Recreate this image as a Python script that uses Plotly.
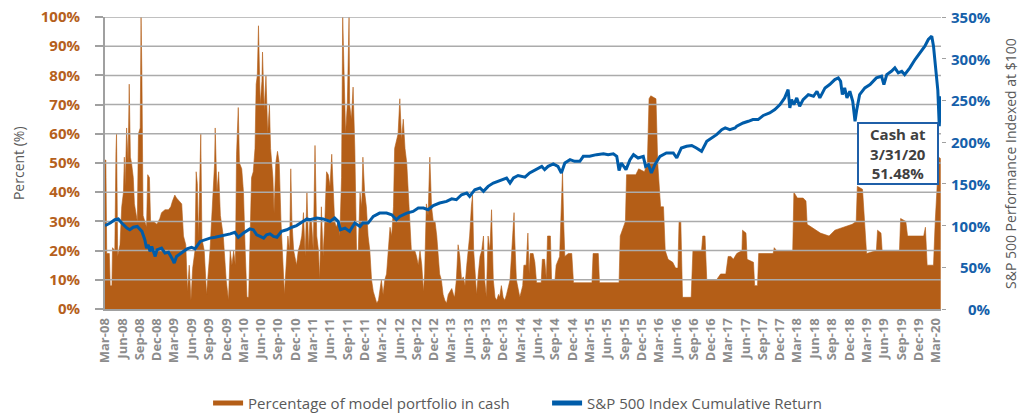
import numpy as np
import pandas as pd
import plotly.graph_objects as go

# ---------------- data (time in months since 1-Mar-2008) ----------------
CASH_MONTHS = [
    0.0, 0.15, 0.3, 0.75, 0.9, 1.2, 1.3, 1.7, 1.9, 2.0, 2.2, 2.6, 2.9, 3.2, 3.35, 3.5, 3.75, 4.0, 4.2, 4.4,
    4.6, 4.9, 5.1, 5.4, 5.6, 5.8, 6.1, 6.25, 6.4, 6.6, 6.9, 7.2, 7.4, 7.7, 7.9, 8.4, 9.0, 9.5, 9.8, 10.4,
    11.0, 11.4, 11.7, 12.1, 12.4, 12.9, 13.3, 13.6, 14.0, 14.3, 14.6, 14.9, 15.2, 15.6, 15.8, 16.0, 16.2, 16.6, 16.8, 17.2,
    17.6, 18.2, 18.7, 19.0, 19.1, 19.4, 19.7, 20.0, 20.5, 21.0, 21.4, 21.7, 22.0, 22.3, 22.6, 22.8, 23.1, 23.3, 23.7, 24.0,
    24.3, 24.6, 24.9, 25.1, 25.4, 25.7, 26.0, 26.2, 26.4, 26.6, 26.9, 27.2, 27.3, 27.6, 27.9, 28.2, 28.5, 28.7, 29.1, 29.3,
    29.6, 29.9, 30.2, 30.5, 30.8, 31.1, 31.4, 31.7, 32.0, 32.2, 32.4, 32.7, 32.9, 33.2, 33.5, 33.8, 34.1, 34.4, 34.7, 35.0,
    35.3, 35.5, 35.8, 36.1, 36.4, 36.7, 37.0, 37.2, 37.5, 37.8, 38.1, 38.4, 38.7, 39.0, 39.3, 39.5, 39.8, 40.1, 40.4, 40.7,
    41.0, 41.2, 41.5, 41.7, 42.0, 42.3, 42.4, 42.7, 43.0, 43.3, 43.6, 43.9, 44.2, 44.5, 44.7, 45.0, 45.3, 45.6, 45.9, 46.2,
    46.5, 46.8, 47.1, 47.4, 47.6, 47.9, 48.2, 48.5, 48.8, 49.1, 49.4, 49.7, 50.0, 50.2, 50.5, 50.8, 51.1, 51.4, 51.7, 52.0,
    52.3, 52.6, 52.8, 53.1, 53.4, 53.7, 54.0, 54.3, 54.6, 54.9, 55.2, 55.4, 55.7, 56.0, 56.3, 56.6, 56.9, 57.2, 57.5, 57.8,
    58.0, 58.3, 58.6, 58.9, 59.2, 59.5, 59.8, 60.1, 60.4, 60.6, 60.9, 61.2, 61.5, 61.8, 62.1, 62.4, 62.7, 63.0, 63.2, 63.5,
    63.7, 63.9, 64.2, 64.4, 64.7, 65.0, 65.3, 65.6, 65.8, 66.1, 66.4, 66.7, 67.0, 67.3, 67.6, 67.9, 68.2, 68.4, 68.7, 69.0,
    69.3, 69.6, 70.2, 70.5, 70.9, 71.0, 71.3, 71.9, 72.4, 72.6, 73.0, 73.3, 73.5, 73.7, 74.2, 74.5, 74.8, 75.6, 75.8, 76.2,
    76.5, 76.7, 77.2, 77.4, 78.0, 78.2, 78.8, 79.0, 79.3, 79.5, 79.7, 80.3, 80.9, 81.2, 83.0, 84.4, 84.6, 85.5, 85.7, 89.1,
    89.3, 89.8, 90.2, 90.4, 92.0, 92.5, 93.5, 94.0, 94.3, 94.6, 95.5, 95.8, 96.3, 96.8, 97.1, 97.6, 98.4, 98.9, 99.3, 99.5,
    99.8, 100.1, 101.6, 101.9, 103.4, 103.6, 104.0, 104.3, 106.0, 106.7, 107.6, 108.0, 108.5, 108.9, 109.5, 110.4, 110.5, 111.1, 111.3, 112.4,
    112.6, 113.1, 113.3, 115.8, 116.0, 116.4, 119.2, 119.4, 120.0, 121.0, 121.5, 121.7, 122.5, 124.0, 125.5, 126.5, 128.0, 129.5, 130.2, 130.4,
    131.3, 131.6, 132.0, 133.7, 133.9, 134.5, 134.7, 137.7, 137.9, 138.8, 139.1, 141.9, 142.2, 142.5, 143.6, 143.9, 144.2, 144.5, 144.85,
]
CASH_PCT = [
    51, 51, 19, 19, 8, 8, 21, 20, 54, 60, 18, 22, 35, 40, 52, 42, 62, 50, 77, 52,
    50, 45, 36, 33, 30, 60, 62, 100, 80, 32, 30, 28, 46, 45, 30, 30, 29, 31, 33, 34,
    34, 35, 37, 39, 38, 37, 36, 25, 22, 6, 15, 3, 14, 20, 47, 43, 24, 60, 24, 20,
    5, 20, 40, 50, 62, 40, 47, 32, 25, 10, 3, 20, 15, 20, 15, 53, 69, 50, 48, 40,
    20, 4, 4, 20, 45, 47, 55, 77, 80, 97, 70, 78, 88, 68, 80, 60, 70, 55, 45, 33,
    50, 54, 50, 30, 15, 5, 15, 25, 20, 48, 30, 20, 18, 15, 20, 22, 25, 33, 18, 40,
    20, 30, 30, 20, 56, 25, 20, 10, 35, 18, 30, 47, 46, 42, 53, 42, 30, 28, 30, 25,
    45, 100, 75, 60, 70, 100, 70, 65, 76, 55, 20, 20, 40, 35, 52, 40, 35, 25, 20, 10,
    6, 4, 2, 3, 6, 10, 5, 10, 12, 22, 28, 25, 35, 55, 58, 60, 72, 58, 65, 55,
    50, 40, 30, 20, 20, 20, 18, 15, 20, 15, 6, 12, 36, 32, 52, 35, 30, 30, 25, 15,
    12, 10, 5, 3, 2, 5, 6, 7, 5, 4, 10, 22, 18, 10, 11, 8, 15, 20, 25, 35,
    39, 20, 10, 5, 12, 18, 20, 25, 10, 4, 25, 20, 34, 10, 4, 3, 5, 4, 8, 4,
    3, 5, 10, 20, 33, 25, 10, 4, 8, 15, 15, 26, 12, 19, 19, 16, 9, 9, 17, 17,
    10, 25, 25, 10, 10, 15, 18, 30, 47, 30, 18, 19, 19, 9, 9, 9, 19, 19, 9, 9,
    25, 28, 30, 46, 46, 48, 47, 50, 72, 73, 72, 50, 35, 35, 20, 17, 16, 14, 14, 30,
    30, 4, 4, 20, 20, 25, 25, 10, 10, 12, 12, 18, 18, 17, 19, 20, 27, 26, 17, 16,
    8, 8, 19, 19, 21, 20, 20, 40, 38, 38, 37, 29, 28, 26, 25, 27, 28, 29, 30, 42,
    41, 30, 19, 20, 27, 26, 20, 20, 31, 30, 25, 25, 28, 15, 15, 30, 40, 52, 51.48,
]

SP_MONTHS = [
    0, 0.9, 1.7, 2.3, 2.9, 3.8, 4.3, 4.9, 5.6, 6.4, 6.9, 7.2, 7.5, 7.8, 8.1, 8.7, 9.0, 9.8, 10.4, 11.0,
    11.6, 12.0, 12.4, 13.3, 14.2, 15.0, 15.6, 16.5, 17.3, 18.2, 19.1, 19.9, 20.8, 21.7, 22.5, 23.1, 24.0, 25.1, 25.7, 26.3,
    26.9, 27.5, 28.0, 28.6, 29.2, 29.8, 30.6, 31.5, 32.4, 33.2, 34.1, 35.0, 35.5, 36.7, 37.8, 39.0, 39.8, 40.4, 40.8, 41.6,
    42.4, 43.3, 44.2, 44.7, 45.6, 46.5, 47.6, 48.8, 49.7, 50.5, 51.1, 52.3, 53.4, 54.3, 55.2, 56.0, 56.9, 58.0, 59.2, 60.1,
    60.9, 61.8, 62.7, 63.2, 64.1, 65.0, 65.6, 66.4, 67.3, 68.2, 69.0, 69.6, 70.2, 70.8, 71.6, 72.8, 73.6, 74.8, 75.7, 76.2,
    76.8, 77.7, 78.5, 79.1, 79.7, 80.6, 81.4, 82.3, 82.9, 84.0, 85.2, 86.4, 87.2, 88.1, 88.7, 89.1, 89.5, 90.3, 91.0, 91.6,
    92.4, 93.3, 93.7, 94.2, 94.7, 95.3, 96.2, 97.3, 98.5, 99.1, 99.9, 100.8, 101.7, 102.5, 103.4, 104.3, 105.1, 106.0, 106.9, 107.5,
    108.3, 109.2, 109.5, 110.6, 111.5, 112.3, 113.2, 114.1, 115.2, 116.1, 117.0, 117.8, 118.4, 118.7, 119.0, 119.4, 119.9, 120.4, 121.0, 121.9,
    122.8, 123.4, 123.9, 124.8, 125.6, 126.5, 127.1, 127.5, 127.8, 128.2, 128.6, 129.1, 129.6, 130.0, 130.3, 130.8, 131.7, 132.6, 133.7, 134.6,
    135.0, 135.5, 136.3, 136.9, 137.5, 138.1, 138.6, 139.5, 140.4, 141.2, 142.1, 142.7, 143.3, 143.6, 143.8, 144.1, 144.35, 144.6, 144.85,
]
SP_PCT = [
    100, 103, 107, 108, 103, 97, 95, 98, 99, 93, 83, 73, 77, 69, 75, 63, 71, 73, 67, 68,
    61, 55, 63, 67, 72, 74, 72, 81, 83, 85, 86, 87, 88, 90, 92, 86, 91, 96, 95, 89,
    87, 85, 89, 90, 87, 86, 93, 95, 98, 100, 104, 108, 107, 109, 108, 105, 109, 105, 95, 97,
    93, 103, 99, 103, 103, 111, 115, 115, 113, 107, 111, 115, 117, 121, 121, 119, 124, 127, 129, 132,
    131, 137, 139, 135, 143, 145, 141, 147, 151, 153, 155, 157, 151, 157, 160, 158, 163, 168, 171, 167,
    171, 174, 171, 163, 175, 179, 177, 177, 183, 183, 185, 186, 185, 186, 183, 166, 175, 167, 179, 185,
    181, 183, 171, 173, 163, 173, 183, 187, 187, 181, 193, 195, 196, 193, 189, 201, 205, 209, 215, 217,
    215, 217, 219, 223, 225, 227, 227, 232, 235, 239, 245, 253, 263, 241, 251, 245, 253, 243, 251, 257,
    255, 261, 253, 265, 269, 275, 277, 273, 257, 265, 253, 261, 249, 225, 239, 257, 265, 269, 277, 279,
    269, 281, 285, 289, 283, 285, 281, 289, 299, 307, 315, 323, 327, 315, 303, 279, 262, 219, 255,
]

LEFT_TICKS = [0, 10, 20, 30, 40, 50, 60, 70, 80, 90, 100]
RIGHT_TICKS = [0, 50, 100, 150, 200, 250, 300, 350]
START = "2008-03-01"
END_MONTHS = 144.9
LAST_CASH_LABEL = "Cash at<br>3/31/20<br>51.48%"

# ---------------- styling ----------------
ORANGE = "#B45E17"
BLUE = "#005CA9"
GRID = "#ABABAB"
FONT = "Open Sans"


def to_dates(months):
    return pd.Timestamp(START) + pd.to_timedelta(np.asarray(months, dtype=float) * 30.4375, unit="D")


cash_x = to_dates(CASH_MONTHS)
sp_x = to_dates(SP_MONTHS)
x_end = to_dates([END_MONTHS])[0]
x_start = pd.Timestamp(START)

fig = go.Figure()

fig.add_trace(go.Scatter(
    x=cash_x, y=CASH_PCT, mode="lines", fill="tozeroy",
    line=dict(color=ORANGE, width=0.6), fillcolor=ORANGE,
    showlegend=False, hoverinfo="skip", yaxis="y",
))

# horizontal gridlines drawn above the cash area (as in the reference)
gx, gy = [], []
for t in LEFT_TICKS[1:]:
    gx += [x_start, x_end, None]
    gy += [t, t, None]
fig.add_trace(go.Scatter(
    x=gx, y=gy, mode="lines", line=dict(color=GRID, width=1.5),
    showlegend=False, hoverinfo="skip", yaxis="y",
))

fig.add_trace(go.Scatter(
    x=sp_x, y=SP_PCT, mode="lines", line=dict(color=BLUE, width=3),
    showlegend=False, yaxis="y2",
))

# legend entries
fig.add_trace(go.Scatter(x=[None], y=[None], mode="lines",
                         line=dict(color=ORANGE, width=5),
                         name="Percentage of model portfolio in cash"))
fig.add_trace(go.Scatter(x=[None], y=[None], mode="lines",
                         line=dict(color=BLUE, width=5),
                         name="S&P 500 Index Cumulative Return"))

annotations = []
# right-axis tick labels (right aligned like the reference)
for t in RIGHT_TICKS:
    annotations.append(dict(
        x=1.0622, xref="paper", xanchor="right",
        y=t, yref="y2", yanchor="middle",
        text=f"{t}%", showarrow=False,
        font=dict(family=FONT, size=15, color="#1560AA", weight="bold"),
    ))
# axis titles
annotations.append(dict(
    x=-0.104, xref="paper", xanchor="center", y=0.5, yref="paper", yanchor="middle",
    text="Percent (%)", textangle=-90, showarrow=False,
    font=dict(family=FONT, size=14, color="#595959"),
))
annotations.append(dict(
    x=1.0825, xref="paper", xanchor="center", y=0.5, yref="paper", yanchor="middle",
    text="S&P 500 Performance Indexed at $100", textangle=-90, showarrow=False,
    font=dict(family=FONT, size=14, color="#595959"),
))
# callout box
annotations.append(dict(
    x=0.9486, xref="paper", xanchor="center", y=0.532, yref="paper", yanchor="middle",
    text=LAST_CASH_LABEL, showarrow=False, align="center",
    width=72, height=53,
    font=dict(family=FONT, size=15, color="#404040", weight="bold"),
    bgcolor="white", bordercolor="#1F5FA8", borderwidth=2, borderpad=3,
))

fig.update_layout(
    width=1025, height=415,
    margin=dict(l=105, r=84, t=17, b=106),
    paper_bgcolor="white", plot_bgcolor="white",
    font=dict(family=FONT, color="#595959"),
    showlegend=True,
    legend=dict(
        orientation="h", xref="container", yref="container",
        x=0.203, xanchor="left", y=0.068, yanchor="top",
        font=dict(family=FONT, size=15, color="#595959"),
        entrywidth=294, entrywidthmode="pixels",
        bgcolor="rgba(0,0,0,0)",
    ),
    xaxis=dict(
        type="date", range=[x_start, x_end],
        tick0=START, dtick="M3", tickformat="%b-%y", tickangle=-90,
        tickfont=dict(family=FONT, size=13, color="#8C8C8C", weight="bold"),
        showgrid=False, showline=True, linecolor="#A0A0A0", linewidth=2,
        ticks="", ticklabelstandoff=2, layer="above traces",
        automargin=False,
    ),
    yaxis=dict(
        range=[0, 100], tickvals=LEFT_TICKS, ticktext=[f"{t}%" for t in LEFT_TICKS],
        tickfont=dict(family=FONT, size=15, color="#B5601C", weight="bold"),
        showgrid=False, zeroline=False,
        showline=True, linecolor="#A0A0A0", linewidth=2,
        ticks="outside", ticklen=8, tickwidth=2, tickcolor="#A0A0A0",
        ticklabelstandoff=12, layer="above traces", automargin=False,
    ),
    yaxis2=dict(
        overlaying="y", side="right", range=[0, 350], tickvals=RIGHT_TICKS,
        showticklabels=False, showgrid=False, zeroline=False, showline=False,
        ticks="outside", ticklen=4, tickwidth=1, tickcolor="#A0A0A0",
        automargin=False,
    ),
    annotations=annotations,
)

fig.write_html(
    "out.html",
    config={"displayModeBar": False},
    post_script="document.body.style.margin='0';document.body.style.padding='0';",
)
